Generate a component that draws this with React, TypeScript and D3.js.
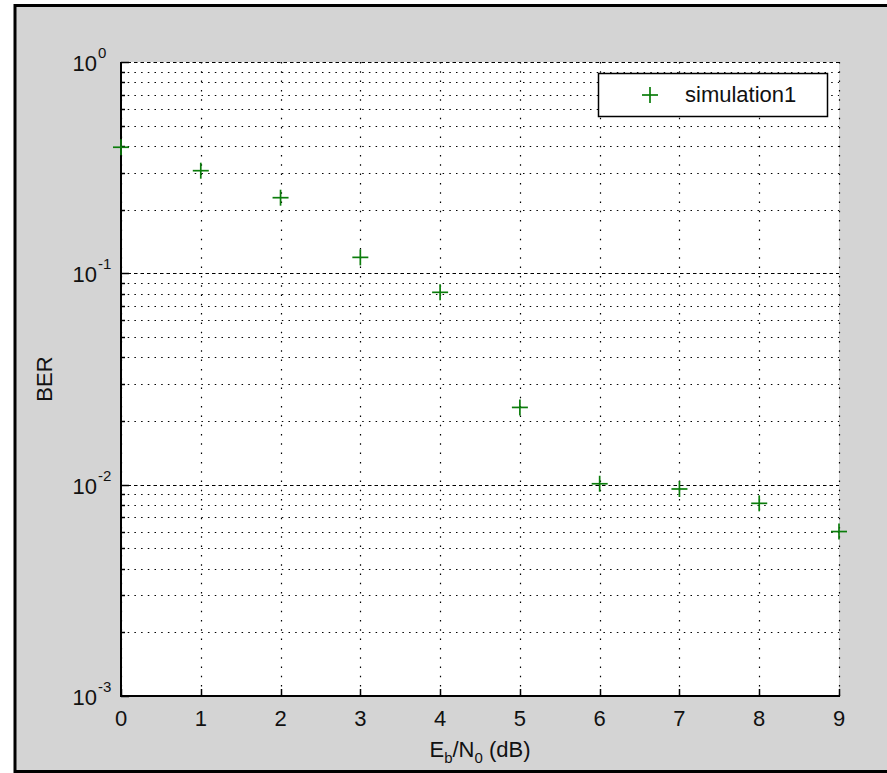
import React from "react";
import * as d3 from "d3";

const ebn0 = [0, 1, 2, 3, 4, 5, 6, 7, 8, 9];
const ber = [0.395, 0.306, 0.228, 0.119, 0.0813, 0.0232, 0.0101, 0.00954, 0.00816, 0.006];
const xTicks = [0, 1, 2, 3, 4, 5, 6, 7, 8, 9];
const yExponents = [0, -1, -2, -3];
const seriesName = "simulation1";
const xLabelMain = ["E", "b", "/N", "0", " (dB)"];
const yLabel = "BER";

const W = 887;
const H = 773;
const L = 121, R = 839, T = 62, B = 696;
const FONT = "'Liberation Sans', Arial, sans-serif";
const GREEN = "#0b7d0b";
const FS = 22;

export default function App() {
  const x = d3.scaleLinear().domain([0, 9]).range([L, R]);
  const y = d3.scaleLog().domain([1e-3, 1]).range([B, T]);
  const minor: number[] = [];
  for (let e = -3; e < 0; e++) for (let m = 2; m <= 9; m++) minor.push(m * Math.pow(10, e));
  const plus = (cx: number, cy: number, k: string) => (
    <g key={k} stroke={GREEN} strokeWidth={1.7}>
      <line x1={cx - 8} x2={cx + 8} y1={cy} y2={cy} />
      <line x1={cx} x2={cx} y1={cy - 8} y2={cy + 8} />
    </g>
  );
  return (
    <svg width={W} height={H} style={{ position: "absolute", left: 0, top: 0 }}>
      <rect x={0} y={0} width={W} height={H} fill="#ffffff" />
      <rect x={15} y={5} width={W - 15} height={766} fill="#d4d4d4" />
      {/* figure border */}
      <line x1={15} x2={15} y1={4} y2={773} stroke="#000" strokeWidth={3} />
      <line x1={14} x2={W} y1={5.5} y2={5.5} stroke="#000" strokeWidth={3} />
      <line x1={14} x2={W} y1={771.5} y2={771.5} stroke="#000" strokeWidth={3} />
      {/* plot area */}
      <rect x={L} y={T} width={R - L} height={B - T} fill="#ffffff" />
      {/* minor horizontal grid */}
      {minor.map((v, i) => (
        <line key={"mg" + i} x1={L} x2={R} y1={Math.round(y(v)) + 0.5} y2={Math.round(y(v)) + 0.5}
          stroke="#000" strokeWidth={1.2} strokeDasharray="1.5,5.2" />
      ))}
      {/* major horizontal grid */}
      {yExponents.map((e) => (
        <line key={"Mg" + e} x1={L} x2={R} y1={Math.round(y(Math.pow(10, e))) + 0.5} y2={Math.round(y(Math.pow(10, e))) + 0.5}
          stroke="#000" strokeWidth={1.2} strokeDasharray="3.5,3" />
      ))}
      {/* vertical grid */}
      {xTicks.map((t) => (
        <line key={"vg" + t} x1={Math.round(x(t)) + 0.5} x2={Math.round(x(t)) + 0.5} y1={T} y2={B}
          stroke="#000" strokeWidth={1.2} strokeDasharray="1.5,7.8" />
      ))}
      {/* axes */}
      <line x1={L} x2={L} y1={T} y2={B + 1} stroke="#000" strokeWidth={2} />
      <line x1={L} x2={R + 1} y1={B} y2={B} stroke="#000" strokeWidth={2} />
      {/* x ticks */}
      {xTicks.map((t) => (
        <g key={"xt" + t}>
          <line x1={Math.round(x(t)) + 0.5} x2={Math.round(x(t)) + 0.5} y1={B} y2={B - 7} stroke="#000" strokeWidth={1.5} />
          <text x={x(t)} y={726} textAnchor="middle" fontFamily={FONT} fontSize={FS} fill="#111">{t}</text>
        </g>
      ))}
      {/* y ticks */}
      {yExponents.map((e) => {
        const yy = y(Math.pow(10, e));
        return (
          <g key={"yt" + e}>
            <line x1={L} x2={L + 8} y1={Math.round(yy) + 0.5} y2={Math.round(yy) + 0.5} stroke="#000" strokeWidth={1.5} />
            <text x={97} y={yy + 9} textAnchor="end" fontFamily={FONT} fontSize={FS} fill="#111">10</text>
            <text x={98} y={yy - 4} textAnchor="start" fontFamily={FONT} fontSize={15} fill="#111">{String(e)}</text>
          </g>
        );
      })}
      {minor.map((v, i) => (
        <line key={"mt" + i} x1={L} x2={L + 4} y1={Math.round(y(v)) + 0.5} y2={Math.round(y(v)) + 0.5} stroke="#000" strokeWidth={1.5} />
      ))}
      {/* data */}
      {ebn0.map((e, i) => plus(x(e), y(ber[i]), "p" + i))}
      {/* legend */}
      <rect x={598.5} y={73.5} width={229} height={43} fill="#ffffff" stroke="#000" strokeWidth={1.5} />
      {plus(650, 95, "lg")}
      <text x={685} y={102} fontFamily={FONT} fontSize={FS} fill="#111">{seriesName}</text>
      {/* labels */}
      <text x={52} y={(T + B) / 2} transform={`rotate(-90 52 ${(T + B) / 2})`} textAnchor="middle"
        fontFamily={FONT} fontSize={FS} fill="#111">{yLabel}</text>
      <text x={(L + R) / 2} y={757} textAnchor="middle" fontFamily={FONT} fontSize={FS} fill="#111">
        <tspan>{xLabelMain[0]}</tspan>
        <tspan fontSize={15} dy={6}>{xLabelMain[1]}</tspan>
        <tspan dy={-6}>{xLabelMain[2]}</tspan>
        <tspan fontSize={15} dy={6}>{xLabelMain[3]}</tspan>
        <tspan dy={-6}>{xLabelMain[4]}</tspan>
      </text>
    </svg>
  );
}
